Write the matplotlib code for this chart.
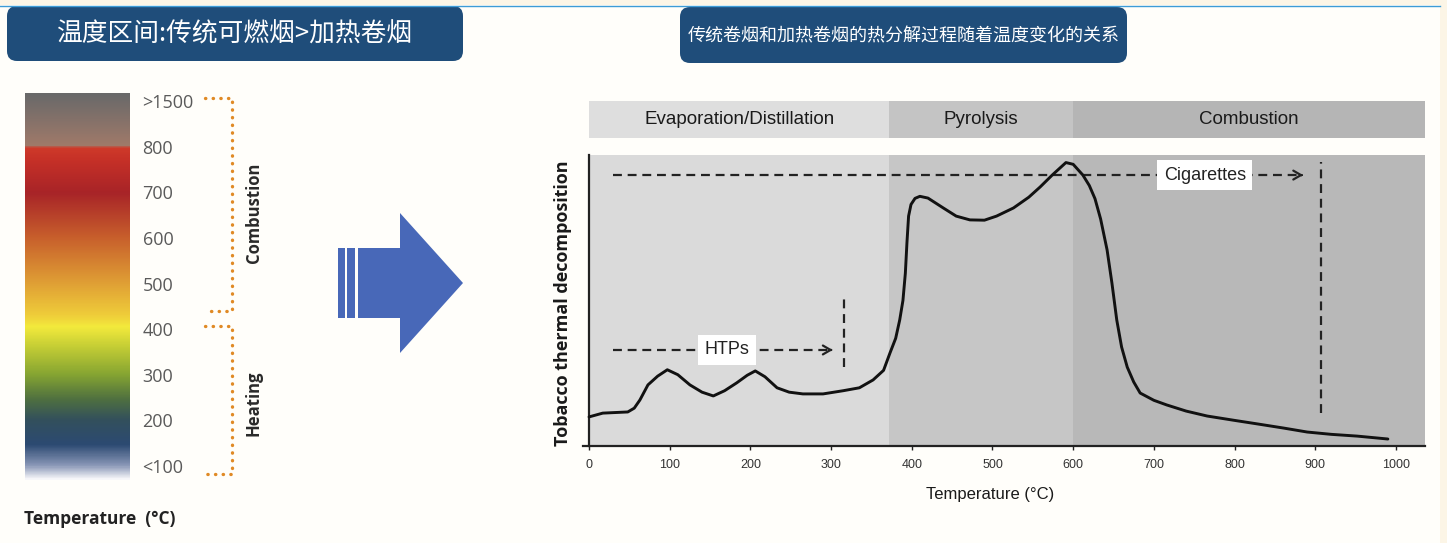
import numpy as np
import matplotlib.pyplot as plt
from matplotlib.colors import LinearSegmentedColormap
from matplotlib.patches import FancyBboxPatch, Polygon, Rectangle

# === Data ===
scale_labels = ['<100', '200', '300', '400', '500', '600', '700', '800', '>1500']
temp_ticks = [0, 100, 200, 300, 400, 500, 600, 700, 800, 900, 1000]
phase_names = ['Evaporation/Distillation', 'Pyrolysis', 'Combustion']
phase_edges = [0, 372, 600, 1036]

curve_temp = [0, 17, 48, 56, 63, 73, 85, 97, 110, 125, 140, 154, 168, 183, 196, 206,
              218, 233, 248, 265, 290, 315, 335, 352, 365, 373, 380, 385, 389, 392,
              394, 396, 399, 404, 410, 420, 439, 455, 472, 490, 505, 526, 545, 559,
              574, 591, 600, 612, 620, 627, 634, 642, 648, 654, 660, 667, 675, 683,
              700, 716, 740, 766, 800, 828, 860, 890, 920, 952, 990]
curve_value = [0.100, 0.113, 0.117, 0.130, 0.158, 0.210, 0.240, 0.262, 0.245, 0.210,
               0.185, 0.172, 0.190, 0.217, 0.243, 0.258, 0.238, 0.200, 0.185, 0.179,
               0.179, 0.190, 0.200, 0.227, 0.260, 0.320, 0.370, 0.433, 0.500, 0.594,
               0.700, 0.790, 0.830, 0.851, 0.858, 0.852, 0.818, 0.790, 0.777, 0.776,
               0.790, 0.818, 0.855, 0.890, 0.931, 0.974, 0.968, 0.931, 0.895, 0.850,
               0.780, 0.674, 0.560, 0.433, 0.340, 0.271, 0.220, 0.182, 0.157, 0.141,
               0.120, 0.103, 0.088, 0.076, 0.062, 0.048, 0.040, 0.034, 0.024]

htp_start, htp_end, htp_level, htp_limit = 30, 302, 0.33, 316
htp_limit_span = (0.271, 0.515)
htp_label_at = 171
cig_start, cig_end, cig_level, cig_limit = 30, 885, 0.931, 907
cig_limit_span = (0.113, 0.976)
cig_label_at = 763

# === Fonts ===
narrow = 'Liberation Sans'
cjk = ['Noto Sans CJK SC', 'DejaVu Sans']
W, H = 1447, 543

fig = plt.figure(figsize=(W / 100, H / 100), dpi=100, facecolor='#fffefa')

# === Decoration layer in pixel coordinates ===
deco = fig.add_axes([0, 0, 1, 1])
deco.set_xlim(0, W)
deco.set_ylim(H, 0)
deco.axis('off')

deco.add_patch(Rectangle((0, 0), W, 5, fc='#fcf5e6', ec='none'))
deco.add_patch(Rectangle((1440, 0), 7, H, fc='#fcf5e6', ec='none'))
deco.plot([0, 1440], [5.5, 5.5], color='#3d9bd6', lw=1)

for x0, y0, x1, y1, title, size in [
        (7, 6, 463, 61, '温度区间:传统可燃烟>加热卷烟', 18.5),
        (680, 7, 1127, 63, '传统卷烟和加热卷烟的热分解过程随着温度变化的关系', 13)]:
    deco.add_patch(FancyBboxPatch((x0, y0), x1 - x0, y1 - y0,
                                  boxstyle='round,pad=0,rounding_size=10',
                                  fc='#1f4d7a', ec='none'))
    deco.text((x0 + x1) / 2, (y0 + y1) / 2 + 1, title, color='white', fontsize=size,
              ha='center', va='center', family=cjk)

# big blue arrow
arrow_blue = '#4868b8'
deco.add_patch(Polygon([(358, 248), (400, 248), (400, 213), (463, 283),
                        (400, 353), (400, 318), (358, 318)], closed=True,
                       fc=arrow_blue, ec='none'))
deco.add_patch(Rectangle((338, 248), 7, 70, fc=arrow_blue, ec='none'))
deco.add_patch(Rectangle((347, 248), 8, 70, fc=arrow_blue, ec='none'))

# dotted brackets
dot = dict(color='#e08a25', lw=2.4, linestyle=(0, (0.1, 2.2)), dash_capstyle='round')
deco.plot([205, 232, 232, 205], [98, 98, 311, 311], **dot)
deco.plot([205, 232, 232, 205], [326, 326, 474, 474], **dot)
deco.text(254, 213, 'Combustion', rotation=90, ha='center', va='center',
          fontsize=12, fontweight='bold', color='#2a2a2a', family='Open Sans')
deco.text(254, 403, 'Heating', rotation=90, ha='center', va='center',
          fontsize=12, fontweight='bold', color='#2a2a2a', family='Open Sans')
deco.text(24, 519, 'Temperature  (°C)', ha='left', va='center', fontsize=12.5,
          fontweight='bold', color='#222222', family='Open Sans')

# === Temperature colour scale ===
cax = fig.add_axes([25 / W, 63 / H, 105 / W, 387 / H])
lo, hi = -0.31, 8.18
stops = [(-0.31, '#f7f7fa'), (0.0, '#8795b5'), (0.45, '#2c4a72'), (1.0, '#33505c'),
         (1.45, '#4f7040'), (2.0, '#86a532'), (2.6, '#c4cd35'), (3.05, '#f3ea3c'),
         (3.3, '#efcd3a'), (4.0, '#e0a035'), (5.0, '#c8602c'), (6.0, '#a82428'),
         (6.7, '#c53027'), (7.0, '#cf3a2a'), (7.04, '#a07a6a'), (hi, '#696969')]
cmap = LinearSegmentedColormap.from_list(
    'temp', [((p - lo) / (hi - lo), c) for p, c in stops])
grad = np.linspace(lo, hi, 800).reshape(-1, 1)
cax.imshow(grad, cmap=cmap, vmin=lo, vmax=hi, aspect='auto', origin='lower',
           extent=[0, 1, lo, hi])
cax.set_xlim(0, 1)
cax.set_ylim(lo, hi)
cax.set_xticks([])
cax.set_yticks(range(len(scale_labels)))
cax.set_yticklabels(scale_labels, family='Open Sans', fontsize=13, color='#5a5a5a')
cax.yaxis.tick_right()
cax.tick_params(axis='y', length=0, pad=9)
for s in cax.spines.values():
    s.set_visible(False)

# === Thermal decomposition chart ===
left = 583.4 / W
width = (1425 - 583.4) / W
ax = fig.add_axes([left, 97 / H, width, 291 / H])
hdr = fig.add_axes([left, 405 / H, width, 37 / H])

band_colors = ['#dadada', '#c6c6c6', '#b8b8b8']
header_colors = ['#dedede', '#c4c4c4', '#b5b5b5']
for i, name in enumerate(phase_names):
    a, b = phase_edges[i], phase_edges[i + 1]
    ax.axvspan(a, b, color=band_colors[i], lw=0, zorder=0)
    hdr.axvspan(a, b, color=header_colors[i], lw=0)
    hdr.text((a + b) / 2, 0.5, name, ha='center', va='center', fontsize=13.5,
             family=narrow, color='#1a1a1a')
hdr.set_xlim(-7, 1036)
hdr.set_ylim(0, 1)
hdr.axis('off')

ax.plot(curve_temp, curve_value, color='#111111', lw=2.1,
        solid_joinstyle='round', solid_capstyle='round', zorder=3)

dash = dict(color='#222222', lw=1.6, dashes=(4, 2.6), zorder=2)
head = dict(arrowstyle='->,head_length=0.55,head_width=0.32', color='#222222', lw=1.6)
for start, end, level, limit, span, label, at in [
        (htp_start, htp_end, htp_level, htp_limit, htp_limit_span, 'HTPs', htp_label_at),
        (cig_start, cig_end, cig_level, cig_limit, cig_limit_span, 'Cigarettes', cig_label_at)]:
    ax.plot([start, end - 3], [level, level], **dash)
    ax.annotate('', xy=(end, level), xytext=(end - 6, level), arrowprops=head, zorder=2)
    ax.plot([limit, limit], span, **dash)
    ax.text(at, level, label, ha='center', va='center', fontsize=13, family=narrow,
            color='#222222', zorder=4,
            bbox=dict(fc='white', ec='none', boxstyle='square,pad=0.35'))

ax.set_xlim(-7, 1036)
ax.set_ylim(0, 1)
ax.set_facecolor('none')
ax.spines['left'].set_position(('data', 0))
for s in ['top', 'right']:
    ax.spines[s].set_visible(False)
for s in ['left', 'bottom']:
    ax.spines[s].set_color('#222222')
    ax.spines[s].set_linewidth(1.6)
ax.set_yticks([])
ax.set_xticks(temp_ticks)
ax.set_xticklabels([str(t) for t in temp_ticks], family=narrow, fontsize=9,
                   color='#333333')
ax.tick_params(axis='x', length=3, width=1, color='#222222', pad=6)

fig.text(563 / W, (H - 303) / H, 'Tobacco thermal decomposition', rotation=90,
         ha='center', va='center', fontsize=13, fontweight='bold', color='#1a1a1a',
         family='Open Sans')
fig.text(990 / W, (H - 495) / H, 'Temperature (°C)', ha='center', va='center',
         fontsize=12, family=narrow, color='#1a1a1a')

fig.savefig('out.png', dpi=100, facecolor=fig.get_facecolor())
